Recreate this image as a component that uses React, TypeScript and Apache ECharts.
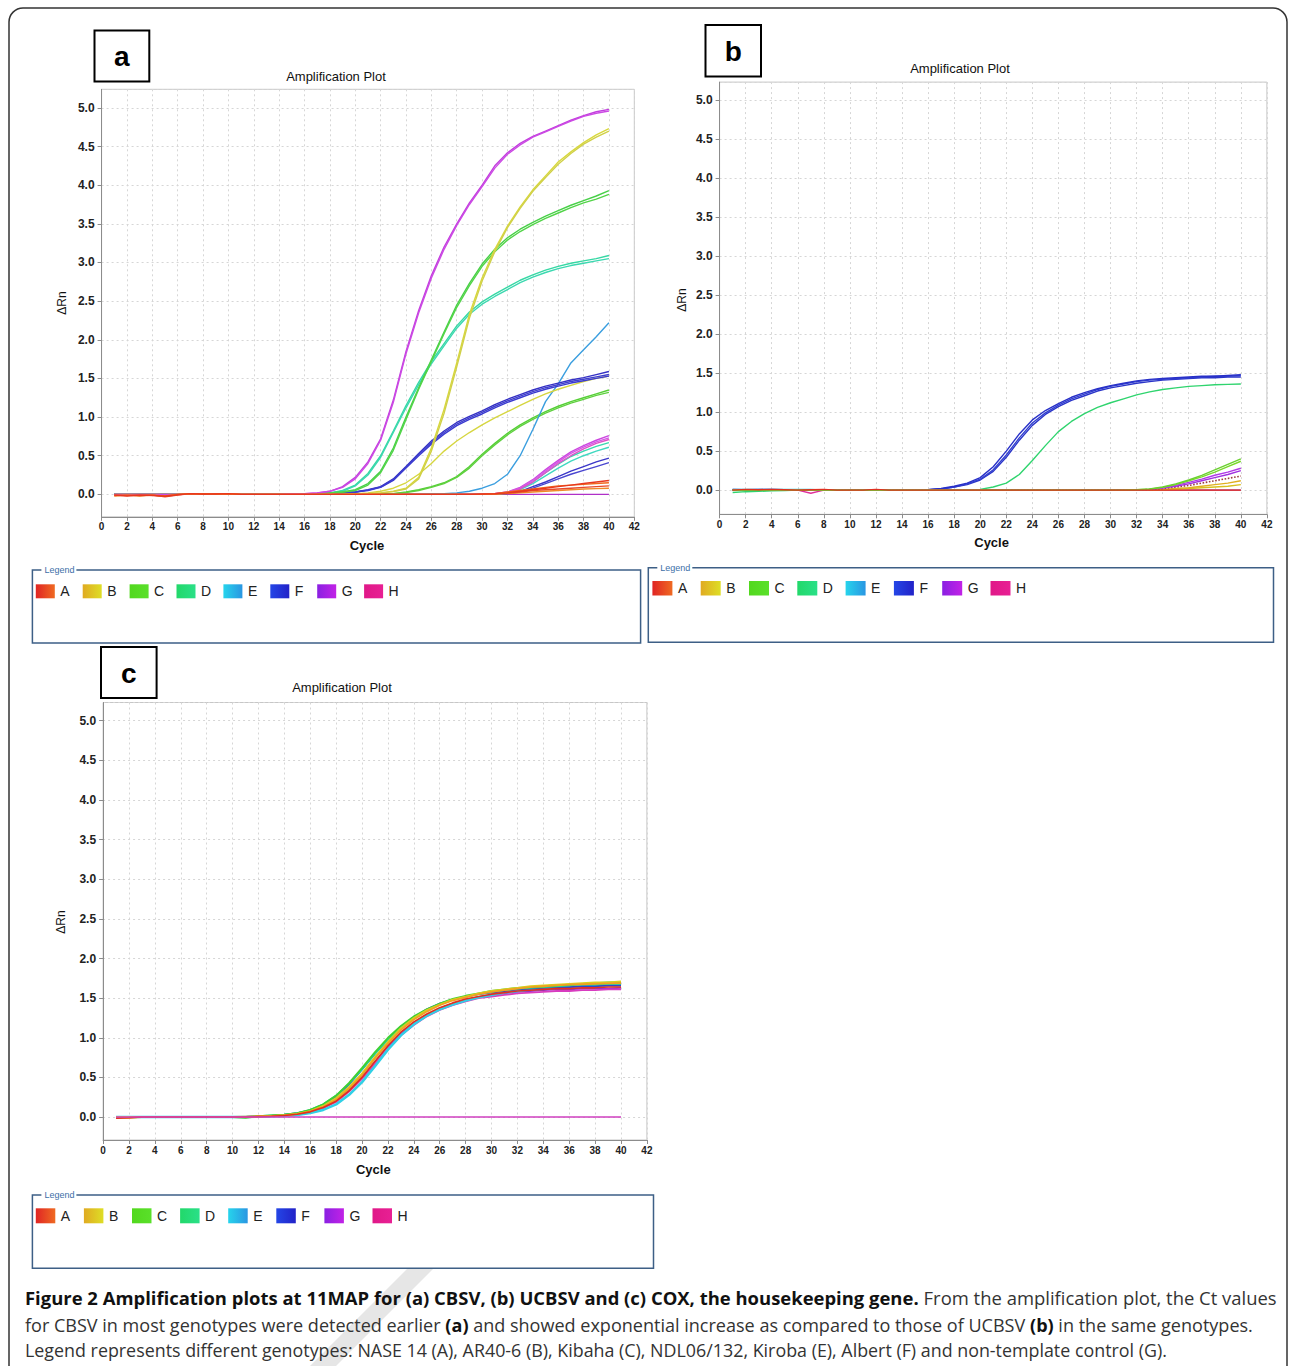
import React, { useEffect, useRef } from "react";
import * as echarts from "echarts";

// ---------------- data ----------------
const CYCLES = [1,2,3,4,5,6,7,8,9,10,11,12,13,14,15,16,17,18,19,20,21,22,23,24,25,26,27,28,29,30,31,32,33,34,35,36,37,38,39,40];
const LEGEND_KEYS = ["A","B","C","D","E","F","G","H"];
const PANEL_LABELS = ["a","b","c"];
const PLOT_TITLE = "Amplification Plot";
const X_NAME = "Cycle";
const Y_NAME = "\u0394Rn";

// Panel a (CBSV)
const aMagenta1 = [0,0,0,0,0,0,0,0,0,0, 0,0,0,0,0.005,0.01,0.02,0.04,0.1,0.22, 0.42,0.72,1.22,1.85,2.38,2.83,3.2,3.5,3.77,4.0, 4.25,4.42,4.54,4.63,4.7,4.77,4.84,4.9,4.95,4.98];
const aMagenta2 = [0,0,0,0,0,0,0,0,0,0, 0,0,0,0,0.005,0.01,0.02,0.04,0.09,0.2, 0.4,0.7,1.19,1.82,2.35,2.8,3.17,3.48,3.75,3.98, 4.22,4.4,4.52,4.62,4.69,4.76,4.83,4.89,4.93,4.96];
const aYellow1 = [0,0,0,0,0,0,0,0,0,0, 0,0,0,0,0,0,0,0,0,0.005, 0.01,0.02,0.04,0.08,0.22,0.6,1.1,1.7,2.33,2.8, 3.17,3.47,3.72,3.94,4.12,4.3,4.43,4.55,4.65,4.73];
const aYellow2 = [0,0,0,0,0,0,0,0,0,0, 0,0,0,0,0,0,0,0,0,0.005, 0.01,0.02,0.035,0.07,0.2,0.56,1.05,1.65,2.28,2.76, 3.14,3.45,3.7,3.92,4.1,4.27,4.41,4.53,4.62,4.7];
const aGreen1 = [0,0,0,0,0,0,0,0,0,0, 0,0,0,0,0,0.005,0.01,0.02,0.03,0.06, 0.14,0.3,0.6,1.0,1.38,1.74,2.1,2.45,2.73,2.98, 3.17,3.32,3.43,3.52,3.6,3.67,3.74,3.8,3.86,3.93];
const aGreen2 = [0,0,0,0,0,0,0,0,0,0, 0,0,0,0,0,0.005,0.01,0.02,0.03,0.05, 0.12,0.28,0.57,0.97,1.36,1.72,2.08,2.42,2.7,2.95, 3.14,3.29,3.4,3.49,3.57,3.64,3.71,3.77,3.82,3.88];
const aTeal1 = [0,0,0,0,0,0,0,0,0,0, 0,0,0,0,0,0.005,0.01,0.02,0.05,0.12, 0.27,0.5,0.82,1.15,1.45,1.72,1.95,2.18,2.36,2.49, 2.59,2.68,2.77,2.84,2.9,2.95,2.99,3.02,3.05,3.09];
const aTeal2 = [0,0,0,0,0,0,0,0,0,0, 0,0,0,0,0,0.005,0.01,0.02,0.04,0.11, 0.25,0.48,0.8,1.12,1.42,1.69,1.92,2.15,2.33,2.46, 2.56,2.65,2.74,2.81,2.87,2.92,2.96,2.99,3.02,3.05];
const aCyan = [0,0,0,0,0,0,0,0,0,0, 0,0,0,0,0,0,0,0,0,0, 0,0,0,0,0,0.005,0.01,0.02,0.04,0.08, 0.14,0.26,0.5,0.84,1.2,1.43,1.7,1.87,2.04,2.22];
const aBlue1 = [0,0,0,0,0,0,0,0,0,0, 0,0,0,0,0,0,0.005,0.01,0.02,0.03, 0.06,0.1,0.2,0.36,0.53,0.69,0.82,0.93,1.01,1.08, 1.16,1.23,1.29,1.35,1.4,1.44,1.48,1.51,1.55,1.59];
const aBlue2 = [0,0,0,0,0,0,0,0,0,0, 0,0,0,0,0,0,0.005,0.01,0.02,0.03, 0.055,0.095,0.19,0.35,0.52,0.67,0.8,0.91,0.99,1.06, 1.14,1.21,1.27,1.33,1.38,1.42,1.46,1.49,1.52,1.55];
const aBlue3 = [0,0,0,0,0,0,0,0,0,0, 0,0,0,0,0,0,0.005,0.01,0.02,0.03, 0.05,0.09,0.18,0.34,0.5,0.65,0.78,0.89,0.97,1.04, 1.12,1.19,1.25,1.31,1.36,1.4,1.44,1.47,1.5,1.53];
const aYellow3 = [0,0,0,0,0,0,0,0,0,0, 0,0,0,0,0,0,0,0,0.005,0.01, 0.02,0.04,0.08,0.15,0.26,0.4,0.56,0.69,0.8,0.9, 0.99,1.07,1.15,1.23,1.3,1.36,1.41,1.46,1.5,1.53];
const aGreen3 = [0,0,0,0,0,0,0,0,0,0, 0,0,0,0,0,0,0,0,0,0, 0,0.005,0.01,0.03,0.06,0.1,0.15,0.23,0.36,0.52, 0.66,0.79,0.9,0.99,1.07,1.14,1.2,1.25,1.3,1.35];
const aGreen4 = [0,0,0,0,0,0,0,0,0,0, 0,0,0,0,0,0,0,0,0,0, 0,0.005,0.01,0.025,0.05,0.09,0.14,0.22,0.34,0.5, 0.64,0.77,0.88,0.97,1.05,1.12,1.18,1.23,1.28,1.32];
const aMagLow1 = [0,0,0,0,0,0,0,0,0,0, 0,0,0,0,0,0,0,0,0,0, 0,0,0,0,0,0,0,0,0,0, 0.01,0.03,0.09,0.19,0.32,0.44,0.55,0.63,0.7,0.76];
const aMagLow2 = [0,0,0,0,0,0,0,0,0,0, 0,0,0,0,0,0,0,0,0,0, 0,0,0,0,0,0,0,0,0,0, 0.01,0.03,0.08,0.18,0.3,0.42,0.53,0.61,0.68,0.73];
const aMagLow3 = [0,0,0,0,0,0,0,0,0,0, 0,0,0,0,0,0,0,0,0,0, 0,0,0,0,0,0,0,0,0,0, 0.01,0.025,0.07,0.16,0.28,0.4,0.5,0.59,0.66,0.71];
const aTealLow1 = [0,0,0,0,0,0,0,0,0,0, 0,0,0,0,0,0,0,0,0,0, 0,0,0,0,0,0,0,0,0,0, 0.005,0.02,0.07,0.16,0.28,0.39,0.49,0.56,0.62,0.67];
const aTealLow2 = [0,0,0,0,0,0,0,0,0,0, 0,0,0,0,0,0,0,0,0,0, 0,0,0,0,0,0,0,0,0,0, 0.005,0.02,0.06,0.14,0.24,0.34,0.43,0.5,0.56,0.61];
const aBlueLow1 = [0,0,0,0,0,0,0,0,0,0, 0,0,0,0,0,0,0,0,0,0, 0,0,0,0,0,0,0,0,0,0, 0.005,0.01,0.04,0.1,0.16,0.23,0.3,0.36,0.42,0.47];
const aBlueLow2 = [0,0,0,0,0,0,0,0,0,0, 0,0,0,0,0,0,0,0,0,0, 0,0,0,0,0,0,0,0,0,0, 0.004,0.01,0.03,0.08,0.14,0.2,0.26,0.31,0.36,0.41];
const aRed1 = [-0.01,-0.02,-0.01,-0.015,-0.025,-0.005,0.01,0.005,0.005,0.01, 0,0,0,0,0,0,0,0,0,0, 0,0,0,0,0,0,0,0,0,0.005, 0.01,0.02,0.04,0.06,0.08,0.1,0.12,0.14,0.16,0.18];
const aRed2 = [-0.015,-0.01,-0.02,-0.01,-0.02,0,0.005,0.01,0,0.005, 0,0,0,0,0,0,0,0,0,0, 0,0,0,0,0,0,0,0,0,0, 0.01,0.03,0.05,0.07,0.09,0.11,0.12,0.13,0.14,0.15];
const aRed3 = [-0.01,-0.015,-0.01,-0.01,-0.03,-0.01,0.01,0,0.01,0.01, 0,0,0,0,0,0,0,0,0,0, 0,0,0,0,0,0,0,0,0,0, 0.005,0.02,0.03,0.05,0.06,0.07,0.08,0.09,0.1,0.11];
const aOrange = [-0.02,-0.01,-0.015,-0.01,-0.02,0,0.005,0.005,0.005,0.01, 0,0,0,0,0,0,0,0,0,0, 0,0,0,0,0,0,0,0,0,0, 0,0.01,0.02,0.03,0.04,0.05,0.06,0.07,0.075,0.08];
const aNtc = [0,0,0,0,0,0,0,0,0,0, 0,0,0,0,0,0,0,0,0,0, 0,0,0,0,0,0,0,0,0,0, 0,0,0,0,0,0,0,0,0,0];

// Panel b (UCBSV)
const bBlue1 = [0.01,0.005,0.01,0.01,0.005,0,0,0,0,0, 0,0,0,0,0,0.005,0.02,0.05,0.09,0.16, 0.3,0.5,0.72,0.9,1.02,1.11,1.19,1.25,1.3,1.34, 1.37,1.4,1.42,1.43,1.44,1.45,1.46,1.46,1.47,1.48];
const bBlue2 = [0,0,0,0,0,0,0,0,0,0, 0,0,0,0,0,0.005,0.015,0.04,0.08,0.14, 0.26,0.45,0.67,0.86,0.99,1.09,1.17,1.23,1.29,1.33, 1.36,1.39,1.41,1.42,1.43,1.44,1.45,1.46,1.46,1.47];
const bBlue3 = [0,0,0,0,0,0,0,0,0,0, 0,0,0,0,0,0.005,0.015,0.04,0.07,0.13, 0.24,0.42,0.64,0.83,0.97,1.07,1.15,1.21,1.27,1.31, 1.34,1.37,1.39,1.41,1.42,1.43,1.44,1.44,1.45,1.45];
const bGreen = [-0.03,-0.02,-0.015,-0.01,-0.005,0,0,0,0,0, 0,0,0,0,0,0,0,0,0.005,0.01, 0.04,0.09,0.2,0.38,0.57,0.75,0.88,0.98,1.06,1.12, 1.17,1.22,1.26,1.29,1.31,1.33,1.34,1.35,1.355,1.36];
const bLime1 = [0,0,0,0,0,0,0,0,0,0, 0,0,0,0,0,0,0,0,0,0, 0,0,0,0,0,0,0,0,0,0, 0,0.005,0.015,0.04,0.08,0.13,0.19,0.26,0.33,0.4];
const bLime2 = [0,0,0,0,0,0,0,0,0,0, 0,0,0,0,0,0,0,0,0,0, 0,0,0,0,0,0,0,0,0,0, 0,0.004,0.012,0.035,0.07,0.12,0.17,0.23,0.3,0.37];
const bPurple1 = [0,0,0,0,0,0,0,0,0,0, 0,0,0,0,0,0,0,0,0,0, 0,0,0,0,0,0,0,0,0,0, 0,0.003,0.01,0.03,0.06,0.1,0.14,0.19,0.23,0.28];
const bPurple2 = [0,0,0,0,0,0,0,0,0,0, 0,0,0,0,0,0,0,0,0,0, 0,0,0,0,0,0,0,0,0,0, 0,0.002,0.008,0.025,0.05,0.08,0.12,0.16,0.2,0.25];
const bBrown = [0,0,0,0,0,0,0,0,0,0, 0,0,0,0,0,0,0,0,0,0, 0,0,0,0,0,0,0,0,0,0, 0,0.002,0.008,0.02,0.04,0.06,0.09,0.12,0.15,0.18];
const bYellow1 = [0,0,0,0,0,0,0,0,0,0, 0,0,0,0,0,0,0,0,0,0, 0,0,0,0,0,0,0,0,0,0, 0,0,0.004,0.01,0.02,0.03,0.05,0.07,0.09,0.12];
const bYellow2 = [0,0,0,0,0,0,0,0,0,0, 0,0,0,0,0,0,0,0,0,0, 0,0,0,0,0,0,0,0,0,0, 0,0,0.002,0.005,0.01,0.02,0.03,0.04,0.05,0.07];
const bRed = [0,0.01,0.005,0.01,0.005,0,0.005,0.01,0,0, 0,0.01,0,0,0,0,0,0,0,0, 0,0,0,0,0,0,0,0,0,0, 0,0,0,0,0,0,0,0,0,0];
const bPink = [0.005,0.005,0.005,0.005,0,0,-0.04,0,0,0, 0,0,0,0,0,0,0,0,0,0, 0,0,0,0,0,0,0,0,0,0, 0,0,0,0,0,0,0,0,0,0];
const bCyan = [0.01,0.01,0.01,0.01,0.01,0.01,0.01,0,0,0, 0,0,0,0,0,0,0,0,0,0, 0,0,0,0,0,0,0,0,0,0, 0,0,0,0,0,0,0,0,0,0];

// Panel c (COX)
const cOrange = [-0.01,-0.01,0,0,0,0,0,0,0,0, 0.005,0.01,0.015,0.025,0.04,0.07,0.13,0.22,0.36,0.53, 0.74,0.93,1.1,1.23,1.33,1.41,1.47,1.51,1.55,1.58, 1.6,1.62,1.64,1.65,1.66,1.67,1.675,1.68,1.685,1.69];
const cGreen = [0,0,0,0,0,0,0,0,0,0, -0.01,0.01,0.02,0.03,0.05,0.09,0.16,0.27,0.43,0.62, 0.82,1.0,1.15,1.27,1.36,1.43,1.49,1.53,1.56,1.59, 1.61,1.63,1.64,1.65,1.66,1.67,1.68,1.69,1.7,1.7];
const cBlue = [0,0,0,0,0,0,0,0,0,0, 0,0.01,0.015,0.03,0.05,0.085,0.155,0.26,0.41,0.6, 0.8,0.98,1.14,1.26,1.36,1.43,1.48,1.52,1.55,1.57, 1.59,1.61,1.62,1.63,1.64,1.64,1.65,1.65,1.66,1.66];
const cYellow = [0,0,0,0,0,0,0,0,0,0, 0,0.005,0.01,0.02,0.04,0.075,0.14,0.24,0.38,0.55, 0.76,0.95,1.12,1.25,1.35,1.42,1.48,1.52,1.56,1.59, 1.61,1.63,1.65,1.66,1.67,1.68,1.69,1.7,1.7,1.71];
const cRed = [-0.015,-0.01,0,0,0,0,0,0,0,0, 0,0.005,0.01,0.02,0.035,0.065,0.12,0.2,0.33,0.5, 0.7,0.9,1.07,1.2,1.3,1.38,1.44,1.49,1.52,1.55, 1.57,1.59,1.6,1.61,1.62,1.62,1.63,1.63,1.64,1.64];
const cCyan = [0,0,0,0,0,0,0,0,0,0, 0,0.005,0.01,0.015,0.025,0.05,0.09,0.16,0.28,0.44, 0.64,0.85,1.03,1.17,1.28,1.36,1.42,1.47,1.51,1.54, 1.57,1.59,1.61,1.62,1.63,1.64,1.65,1.65,1.66,1.66];
const cMagenta = [0,0,0,0,0,0,0,0,0,0, 0,0.005,0.01,0.02,0.03,0.06,0.11,0.19,0.32,0.48, 0.67,0.86,1.03,1.16,1.27,1.35,1.41,1.46,1.5,1.52, 1.54,1.56,1.57,1.58,1.59,1.59,1.6,1.6,1.61,1.61];
const cPurple = [0,0,0,0,0,0,0,0,0,0, 0,0.005,0.01,0.02,0.035,0.065,0.12,0.21,0.34,0.5, 0.7,0.89,1.05,1.18,1.29,1.37,1.43,1.47,1.51,1.54, 1.56,1.58,1.59,1.6,1.61,1.61,1.62,1.62,1.62,1.63];
const cTeal = [0,0,0,0,0,0,0,0,0,0, 0,0.01,0.02,0.03,0.05,0.09,0.16,0.27,0.42,0.6, 0.8,0.98,1.13,1.25,1.35,1.42,1.48,1.52,1.55,1.58, 1.6,1.62,1.63,1.64,1.65,1.66,1.67,1.67,1.68,1.68];
const cNtc = [0,0,0,0,0,0,0,0,0,0, 0,0,0,0,0,0,0,0,0,0, 0,0,0,0,0,0,0,0,0,0, 0,0,0,0,0,0,0,0,0,0];

// Caption
const CAPTION_LINES = [
  [
    { t: "Figure 2 Amplification plots at 11MAP for (a) CBSV, (b) UCBSV and (c) COX, the housekeeping gene.", b: true },
    { t: " From the amplification plot, the Ct values", b: false },
  ],
  [
    { t: "for CBSV in most genotypes were detected earlier ", b: false },
    { t: "(a)", b: true },
    { t: " and showed exponential increase as compared to those of UCBSV ", b: false },
    { t: "(b)", b: true },
    { t: " in the same genotypes.", b: false },
  ],
  [
    { t: "Legend represents different genotypes: NASE 14 (A), AR40-6 (B), Kibaha (C), NDL06/132, Kiroba (E), Albert (F) and non-template control (G).", b: false },
  ],
];

// ---------------- styling / layout ----------------
const FONT = "'Liberation Sans', Arial, Helvetica, sans-serif";
const CAP_FONT = "'Open Sans', 'Noto Sans', sans-serif";
const CAP_SIZE = 18.5;

const PANELS = [
  { grid: { left: 101.6, top: 89.3, width: 532.7, height: 427.5 }, yMin: -0.29, yMax: 5.24,
    title: [336, 76], xname: [367, 545], yname: [62, 303], label: { x: 94.5, y: 30.4, w: 54.8, h: 51 } },
  { grid: { left: 719.6, top: 82.1, width: 547.3, height: 432.2 }, yMin: -0.31, yMax: 5.23,
    title: [960, 68], xname: [991.6, 542], yname: [681.5, 300], label: { x: 705.5, y: 25, w: 55.5, h: 51.4 } },
  { grid: { left: 103.1, top: 702.5, width: 543.8, height: 437.5 }, yMin: -0.29, yMax: 5.23,
    title: [342, 687.5], xname: [373.3, 1169], yname: [61, 922], label: { x: 101, y: 647, w: 55.6, h: 50.9 } },
];

const LEGEND_BOXES = [
  { x: 32.4, y: 570, w: 608.2, h: 73, sx: 35.8, step: 46.9, sy: 584.3, sw: 19, sh: 14 },
  { x: 648.3, y: 567.7, w: 625.2, h: 74.6, sx: 652.4, step: 48.3, sy: 581, sw: 20, sh: 14.5 },
  { x: 32.4, y: 1195, w: 621.1, h: 73.3, sx: 35.8, step: 48.1, sy: 1208.3, sw: 19.5, sh: 15 },
];

const LEGEND_GRADIENTS = [
  ["#e02424", "#ef6a22"],
  ["#e0aa22", "#dede26"],
  ["#52d81e", "#5ae02a"],
  ["#22d86a", "#2ae088"],
  ["#26d4ec", "#2a96e2"],
  ["#2446e6", "#2222c8"],
  ["#8a20e2", "#c222e6"],
  ["#e01888", "#e82094"],
];

type Spec = [number[], string, number?, string?];

const SERIES_A: Spec[] = [
  [aNtc, "#b030c8"],
  [aBlueLow1, "#3a36c8"], [aBlueLow2, "#4a46d0"],
  [aTealLow1, "#3ad8b0"], [aTealLow2, "#40d8c0"],
  [aMagLow1, "#cc46e0"], [aMagLow2, "#d45ae6"], [aMagLow3, "#e050c8"],
  [aGreen3, "#55d035"], [aGreen4, "#60d040"],
  [aCyan, "#3a9edf"],
  [aYellow3, "#d6d640"],
  [aBlue1, "#3430c4"], [aBlue2, "#4040cc"], [aBlue3, "#3a3ad0"],
  [aTeal1, "#36d8a4"], [aTeal2, "#3cd8b0"],
  [aGreen1, "#48d048"], [aGreen2, "#52d448"],
  [aYellow1, "#d8d83c"], [aYellow2, "#d0d048"],
  [aMagenta1, "#c23ede"], [aMagenta2, "#cc4ae4"],
  [aOrange, "#f08a28"], [aRed3, "#e84a2a"], [aRed2, "#f06a1e"], [aRed1, "#e8381e"],
];

const SERIES_B: Spec[] = [
  [bCyan, "#30c8e0"], [bPink, "#e0309a"],
  [bGreen, "#2fd46e"],
  [bBlue3, "#2a34c8"], [bBlue2, "#3240d0"], [bBlue1, "#2830c8"],
  [bYellow2, "#d8c020"], [bYellow1, "#e0b020"],
  [bBrown, "#9b3d3d", 1.6, "dotted"],
  [bPurple2, "#a030e0"], [bPurple1, "#b038e8"],
  [bLime2, "#78d82a"], [bLime1, "#6ad030"],
  [bRed, "#e03020"],
];

const SERIES_C: Spec[] = [
  [cPurple, "#8a30d8", 1.8], [cMagenta, "#d83cc0", 1.8], [cCyan, "#30d0e6", 2.6],
  [cBlue, "#3040d0", 1.8], [cTeal, "#22d890", 1.8], [cGreen, "#40d030", 1.8],
  [cYellow, "#d8d020", 1.8], [cOrange, "#f0a020", 1.8], [cRed, "#e03020", 1.6],
  [cNtc, "#d040c0", 1.4],
];

const isHalf = (v: number) => Math.abs(v * 2 - Math.round(v * 2)) < 1e-6;

export default function App() {
  const ref = useRef<HTMLDivElement>(null);

  useEffect(() => {
    const el = ref.current;
    if (!el) return;
    const chart = echarts.init(el, null, { renderer: "svg" });

    const grids: any[] = [];
    const xAxes: any[] = [];
    const yAxes: any[] = [];
    const series: any[] = [];
    const graphic: any[] = [];

    // outer frame
    graphic.push({
      type: "rect", z: 1,
      shape: { x: 9, y: 8, width: 1278, height: 1420, r: 14 },
      style: { fill: "none", stroke: "#333", lineWidth: 1.5 },
    });

    PANELS.forEach((p, i) => {
      grids.push({
        ...p.grid, show: true, borderColor: "#c6c6c6", borderWidth: 1,
        backgroundColor: "#fff", containLabel: false, outerBoundsMode: "none",
      });
      xAxes.push({
        type: "value", gridIndex: i, min: 0, max: 42, interval: 2,
        axisLine: { show: true, onZero: false, lineStyle: { color: "#8c8c8c", width: 1 } },
        axisTick: { show: true, length: 4, lineStyle: { color: "#8c8c8c" } },
        axisLabel: { fontSize: 10, fontWeight: "bold", color: "#222", margin: 5, fontFamily: FONT },
        splitLine: { show: true, lineStyle: { color: "#d6d6d6", type: [2, 3], width: 1 } },
      });
      yAxes.push({
        type: "value", gridIndex: i, min: p.yMin, max: p.yMax, splitNumber: 11,
        axisLine: { show: true, onZero: false, lineStyle: { color: "#8c8c8c", width: 1 } },
        axisTick: { show: true, length: 4, lineStyle: { color: "#8c8c8c" } },
        axisLabel: {
          fontSize: 12, fontWeight: "bold", color: "#222", margin: 7, fontFamily: FONT,
          showMinLabel: false, showMaxLabel: false,
          formatter: (v: number) => (isHalf(v) ? v.toFixed(1) : ""),
        },
        splitLine: { show: true, lineStyle: { color: "#d6d6d6", type: [2, 3], width: 1 } },
      });

      graphic.push({
        type: "text", x: p.title[0], y: p.title[1], z: 10,
        style: { text: PLOT_TITLE, fontFamily: FONT, fontSize: 13, fill: "#111", align: "center", verticalAlign: "middle" },
      });
      graphic.push({
        type: "text", x: p.xname[0], y: p.xname[1], z: 10,
        style: { text: X_NAME, fontFamily: FONT, fontSize: 13, fontWeight: "bold", fill: "#111", align: "center", verticalAlign: "middle" },
      });
      graphic.push({
        type: "text", x: p.yname[0], y: p.yname[1], rotation: Math.PI / 2, z: 10,
        style: { text: Y_NAME, fontFamily: FONT, fontSize: 12, fill: "#111", align: "center", verticalAlign: "middle" },
      });
      graphic.push({
        type: "rect", z: 10,
        shape: { x: p.label.x, y: p.label.y, width: p.label.w, height: p.label.h },
        style: { fill: "#fff", stroke: "#000", lineWidth: 2 },
      });
      graphic.push({
        type: "text", z: 11, x: p.label.x + p.label.w / 2, y: p.label.y + p.label.h / 2 + 1,
        style: { text: PANEL_LABELS[i], fontFamily: FONT, fontSize: 28, fontWeight: "bold", fill: "#000", align: "center", verticalAlign: "middle" },
      });
    });

    const addSeries = (specs: Spec[], gi: number, defWidth: number) => {
      specs.forEach(([arr, color, w, type], k) => {
        series.push({
          type: "line", name: `p${gi}-${k}`, xAxisIndex: gi, yAxisIndex: gi,
          data: CYCLES.map((c, j) => [c, arr[j]]),
          showSymbol: false, symbol: "none", silent: true, smooth: false,
          lineStyle: { color, width: w ?? defWidth, type: type ?? "solid" },
          itemStyle: { color },
          emphasis: { disabled: true },
        });
      });
    };
    addSeries(SERIES_A, 0, 1.4);
    addSeries(SERIES_B, 1, 1.4);
    addSeries(SERIES_C, 2, 1.8);

    LEGEND_BOXES.forEach((b) => {
      graphic.push({
        type: "rect", z: 5,
        shape: { x: b.x, y: b.y, width: b.w, height: b.h },
        style: { fill: "#fff", stroke: "#3d5f86", lineWidth: 1.5 },
      });
      graphic.push({
        type: "rect", z: 6,
        shape: { x: b.x + 9, y: b.y - 5, width: 35, height: 10 },
        style: { fill: "#fff" },
      });
      graphic.push({
        type: "text", z: 7, x: b.x + 12, y: b.y,
        style: { text: "Legend", fontFamily: FONT, fontSize: 9, fill: "#3d6fa8", align: "left", verticalAlign: "middle" },
      });
      LEGEND_KEYS.forEach((key, k) => {
        const x = b.sx + k * b.step;
        graphic.push({
          type: "rect", z: 7,
          shape: { x, y: b.sy, width: b.sw, height: b.sh },
          style: {
            fill: {
              type: "linear", x: 0, y: 0, x2: 1, y2: 0,
              colorStops: [
                { offset: 0, color: LEGEND_GRADIENTS[k][0] },
                { offset: 1, color: LEGEND_GRADIENTS[k][1] },
              ],
            },
          },
        });
        graphic.push({
          type: "text", z: 7, x: x + b.sw + 5.5, y: b.sy + b.sh / 2,
          style: { text: key, fontFamily: FONT, fontSize: 14, fill: "#222", align: "left", verticalAlign: "middle" },
        });
      });
    });

    // watermark stripe
    graphic.push({
      type: "polygon", z: 2,
      shape: { points: [[412, 1264], [438, 1264], [336, 1366], [310, 1366]] },
      style: { fill: "#e6e6e6" },
    });

    // caption
    const ctx = document.createElement("canvas").getContext("2d");
    const measure = (segs: { t: string; b: boolean }[]) =>
      segs.reduce((w, s) => {
        if (!ctx) return w + s.t.length * CAP_SIZE * 0.5;
        ctx.font = `${s.b ? "bold " : ""}${CAP_SIZE}px ${CAP_FONT}`;
        return w + ctx.measureText(s.t).width;
      }, 0);
    const targets = [1252, 1228, 1143];
    const lineY = [1297, 1324, 1350];
    CAPTION_LINES.forEach((segs, li) => {
      const w = measure(segs);
      const s = targets[li] / w;
      const text = segs.map((sg) => `{${sg.b ? "b" : "r"}|${sg.t}}`).join("");
      graphic.push({
        type: "text", z: 8, x: 25, y: lineY[li], scaleX: s, scaleY: 1, originX: 0, originY: 0,
        style: {
          text,
          align: "left",
          verticalAlign: "middle",
          rich: {
            b: { fontFamily: CAP_FONT, fontSize: CAP_SIZE, fontWeight: "bold", fill: "#111", color: "#111" },
            r: { fontFamily: CAP_FONT, fontSize: CAP_SIZE, fontWeight: "normal", fill: "#333", color: "#333" },
          },
        },
      });
    });

    chart.setOption({
      animation: false,
      backgroundColor: "#fff",
      textStyle: { fontFamily: FONT },
      grid: grids,
      xAxis: xAxes,
      yAxis: yAxes,
      series,
      graphic: { elements: graphic },
    });

    return () => chart.dispose();
  }, []);

  return (
    <div
      ref={ref}
      style={{ position: "absolute", left: 0, top: 0, width: 1290, height: 1366, background: "#fff" }}
    />
  );
}
